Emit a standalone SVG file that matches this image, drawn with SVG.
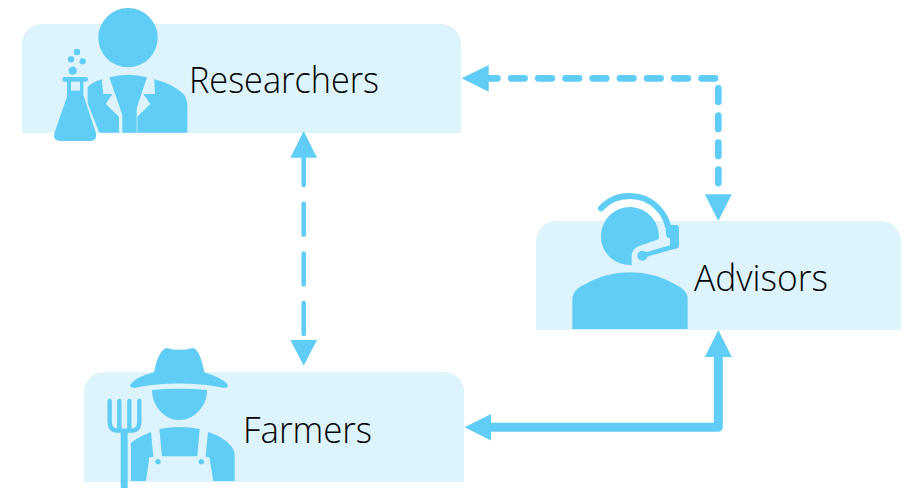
<svg xmlns="http://www.w3.org/2000/svg" width="912" height="488" viewBox="0 0 912 488">
<style>
.box{fill:#DDF4FD}
.ic{fill:#5FCDF5}
.cut{fill:#DDF4FD}
.lb{font-family:"Open Sans","Noto Sans",sans-serif;font-size:36px;font-weight:300;fill:#000}
.ln{fill:none;stroke:#5FCDF5}
.rd{stroke-linecap:round}
.head{fill:#5FCDF5}
</style>
<rect width="912" height="488" fill="#fff"/>
<g id="researchers">
<path class="box" d="M22,133V44a20,20 0 0 1 20,-20H441a20,20 0 0 1 20,20V133Z"/>
<g transform="translate(20,0) scale(0.33333)">
<circle class="ic" cx="324" cy="113" r="89"/>
<circle class="ic" cx="171" cy="156" r="9.500"/><circle class="ic" cx="153" cy="178" r="9.500"/><circle class="ic" cx="188" cy="184" r="9.500"/><circle class="ic" cx="158" cy="212" r="12.500"/>
<path class="ic" d="M133,231H198Q204,231 204,237Q204,245 196,245H190V285L228,400Q232,423 210,423H122Q98,423 103,400L141,290V245H134Q127,245 127,238Q127,231 133,231Z"/>
<path class="cut" d="M153,245H180V272H153Z"/>
<path class="ic" d="M203,262Q210,250 245,238L250,282H277L257,312L297,350V398H238L203,310Z"/>
<path class="ic" d="M268,232Q324,217 381,232L350,325V398H307V345Z"/>
<path class="ic" d="M403,238Q460,252 490,282Q502,295 502,320V398H352V350L391,312L370,282H405Z"/>
</g>
<text class="lb" x="189" y="93" textLength="190" lengthAdjust="spacingAndGlyphs">Researchers</text>
</g>
<g id="farmers">
<path class="box" d="M84,482V392a20,20 0 0 1 20,-20H444a20,20 0 0 1 20,20V482Z"/>
<g transform="translate(90,340) scale(0.33333)">
<path class="ic" d="M192,97Q205,30 230,24Q265,35 310,24Q330,30 343,97Q400,115 414,135Q414,145 400,143Q265,118 135,143Q120,145 120,135Q135,112 192,97Z"/>
<path class="ic" d="M186,150Q268,143 351,150C352,200 310,240 268,240C225,240 186,200 186,150Z"/>
<path class="ic" d="M208,267Q268,255 329,267L322,349H216Z"/>
<path class="ic" d="M123,308Q150,288 183,276L190,350L178,352L168,423H123Z"/>
<path class="ic" d="M354,276Q400,290 425,320Q434,332 434,345V423H370L358,352L347,350Z"/>
<circle class="ic" cx="204" cy="365" r="8"/><circle class="ic" cx="334" cy="365" r="8"/>
<path class="ln rd" stroke-width="13" d="M59,183V245Q59,272 85,272H122Q148,272 148,245V183M88,183V272M118,183V272"/>
<rect class="ic" x="92" y="270" width="21" height="178"/>
</g>
<text class="lb" x="243" y="443" textLength="129" lengthAdjust="spacingAndGlyphs">Farmers</text>
</g>
<g id="advisors">
<path class="box" d="M536,330V241a20,20 0 0 1 20,-20H881a20,20 0 0 1 20,20V330Z"/>
<g transform="translate(540,180) scale(0.33333)">
<path class="ic" d="M275,255A87,87 0 1 1 356,178L300,197Q275,205 275,230Z"/>
<path class="ln rd" stroke-width="18" d="M183,85C210,55 245,48 270,48C335,48 385,100 388,165"/>
<path class="ic" d="M392,135H408Q417,135 417,145V195Q417,203 408,206L390,206V140Z"/>
<path class="ln rd" stroke-width="14" d="M307,227L410,197"/>
<circle class="ic" cx="307" cy="227" r="15"/>
<path class="ic" d="M97,447V355Q100,330 125,318Q195,277 270,277Q345,277 415,318Q443,335 443,355V447Z"/>
</g>
<text class="lb" x="694" y="291" textLength="134" lengthAdjust="spacingAndGlyphs">Advisors</text>
</g>
<g id="connectors">
<path class="ln rd" stroke-width="6.700" stroke-dasharray="13.500 13.700" d="M715,78.300H488"/>
<path class="ln rd" stroke-width="6.700" stroke-dasharray="13.400 13.700" d="M718.300,88.400V190"/>
<polygon class="head" points="461.700,78.300 488.700,65 488.700,91.700"/>
<polygon class="head" points="718.300,221 704.800,194.300 731.800,194.300"/>
<path class="ln rd" stroke-width="4.500" stroke-dasharray="31 18.700" d="M303.700,154V336"/>
<polygon class="head" points="303.700,131 290.400,157.700 317,157.700"/>
<polygon class="head" points="303.700,365.700 290.400,340 317,340"/>
<path class="ln" stroke-width="9" stroke-linejoin="round" d="M488,427.300H718.300V355"/>
<polygon class="head" points="464.500,427.300 491,414 491,440.600"/>
<polygon class="head" points="718.300,330 704.800,357 731.800,357"/>
</g>
</svg>
